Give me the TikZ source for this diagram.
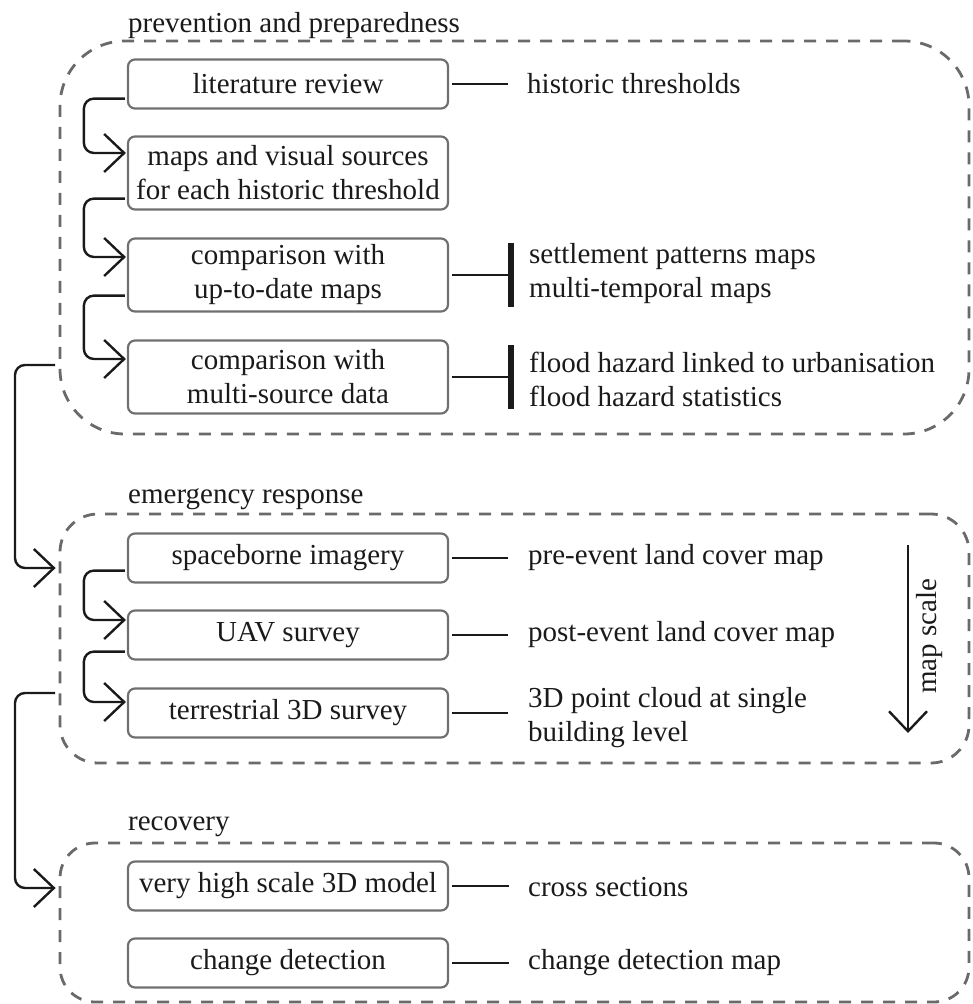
\documentclass[tikz,border=0pt]{standalone}
\usepackage{fontspec}
\setmainfont{Liberation Serif}
\newfontfamily\diagfont{Liberation Serif}
\usetikzlibrary{arrows.meta,calc}
\definecolor{boxgray}{HTML}{707070}
\definecolor{dashgray}{HTML}{6A6A6A}
\definecolor{ink}{HTML}{1A1A1A}
\begin{document}
\begin{tikzpicture}[x=1pt,y=-1pt,
  every node/.style={font=\diagfont\fontsize{29}{34}\selectfont, text=ink},
  phase/.style={draw=dashgray, line width=2.8pt, dash pattern=on 12pt off 10pt, minimum width=909pt, inner sep=0pt},
  stagebox/.style={draw=boxgray, line width=2.2pt, rounded corners=7pt, minimum width=320pt, inner sep=0pt, align=center},
  onebox/.style={stagebox, minimum height=49pt},
  twobox/.style={stagebox, minimum height=73pt},
  note/.style={inner sep=0pt, anchor=west, align=left},
  title/.style={inner sep=0pt, anchor=base west},
  conn/.style={draw=ink, line width=2.4pt, rounded corners=10pt},
  arr/.style={-{Straight Barb[length=20pt,width=38pt]}},
  link/.style={draw=ink, line width=2.4pt},
  bar/.style={draw=ink, line width=6pt}
]
\useasboundingbox (0,0) rectangle (973,1004);

% phase containers
\node[phase, rounded corners=65pt, minimum height=393pt] (prev) at (514.5,237.5) {};
\node[phase, rounded corners=38pt, minimum height=249pt] (emer) at (514.5,638.5) {};
\node[phase, rounded corners=35pt, minimum height=159pt] (recov) at (514.5,922.5) {};

% titles
\node[title] (t1) at (128,32) {prevention and preparedness};
\node[title] (t2) at (128,503) {emergency response};
\node[title] (t3) at (128,830) {recovery};

% prevention boxes
\node[onebox] (lit) at (288,84) {literature review};
\node[twobox] (maps) at (288,173) {maps and visual sources\\for each historic threshold};
\node[twobox] (cmp1) at (288,275) {comparison with\\up-to-date maps};
\node[twobox] (cmp2) at (288,377) {comparison with\\multi-source data};

% emergency boxes
\node[onebox] (space) at (288,558) {spaceborne imagery};
\node[onebox] (uav) at (288,635) {UAV survey};
\node[onebox] (terr) at (288,713) {terrestrial 3D survey};

% recovery boxes
\node[onebox] (vhs) at (288,886) {very high scale 3D model};
\node[onebox] (chg) at (288,963) {change detection};

% notes
\node[note] (hist) at (527,84) {historic thresholds};
\node[note] (settle) at (529,274) {settlement patterns maps\\multi-temporal maps};
\node[note] (flood) at (529,379) {flood hazard linked to urbanisation\\flood hazard statistics};
\node[note] (pre) at (528,558) {pre-event land cover map};
\node[note] (post) at (528,635) {post-event land cover map};
\node[note] (cloud) at (528,718) {3D point cloud at single\\building level};
\node[note] (cross) at (528,887) {cross sections};
\node[note] (cdm) at (528,963) {change detection map};

% links to notes
\draw[link] ([xshift=3pt]lit.east) -- ([xshift=-19pt]hist.west |- lit.east);
\coordinate (b1) at ([xshift=-18pt]settle.west |- cmp1.east);
\draw[link] ([xshift=3pt]cmp1.east) -- (b1);
\draw[bar] ([yshift=32pt]b1) -- ([yshift=-32pt]b1);
\coordinate (b2) at ([xshift=-18pt]flood.west |- cmp2.east);
\draw[link] ([xshift=3pt]cmp2.east) -- (b2);
\draw[bar] ([yshift=32pt]b2) -- ([yshift=-32pt]b2);
\draw[link] ([xshift=3pt]space.east) -- ([xshift=-20pt]pre.west |- space.east);
\draw[link] ([xshift=3pt]uav.east) -- ([xshift=-20pt]post.west |- uav.east);
\draw[link] ([xshift=3pt]terr.east) -- ([xshift=-20pt]cloud.west |- terr.east);
\draw[link] ([xshift=3pt]vhs.east) -- ([xshift=-19pt]cross.west |- vhs.east);
\draw[link] ([xshift=3pt]chg.east) -- ([xshift=-19pt]cdm.west |- chg.east);

% connectors within phases
\draw[conn,arr] ([xshift=-2pt,yshift=11pt]lit.south west) -- ++(-41pt,0) |- ([xshift=-1pt,yshift=20pt]maps.west);
\draw[conn,arr] ([xshift=-2pt,yshift=12pt]maps.south west) -- ++(-41pt,0) |- ([xshift=-1pt,yshift=18pt]cmp1.west);
\draw[conn,arr] ([xshift=-2pt,yshift=17pt]cmp1.south west) -- ++(-41pt,0) |- ([xshift=-1pt,yshift=18pt]cmp2.west);
\draw[conn,arr] ([xshift=-2pt,yshift=13pt]space.south west) -- ++(-41pt,0) |- ([xshift=-1pt,yshift=15pt]uav.west);
\draw[conn,arr] ([xshift=-2pt,yshift=9pt]uav.south west) -- ++(-41pt,0) |- ([xshift=-1pt,yshift=11pt]terr.west);

% connectors between phases
\coordinate (j1) at (55,365);
\coordinate (j2) at (55,693);
\draw[conn,arr] (j1) -- ++(-40pt,0) |- ([xshift=-3pt,yshift=-10pt]emer.west |- space.west);
\draw[conn,arr] (j2) -- ++(-40pt,0) |- ([xshift=-3pt,yshift=-2pt]recov.west |- vhs.west);

% map scale
\coordinate (msA) at (908,545);
\coordinate (msB) at (908,733);
\draw[link,arr] (msA) -- (msB);
\node[rotate=90, inner sep=0pt] (ms) at (930,636) {map scale};
\end{tikzpicture}
\end{document}
